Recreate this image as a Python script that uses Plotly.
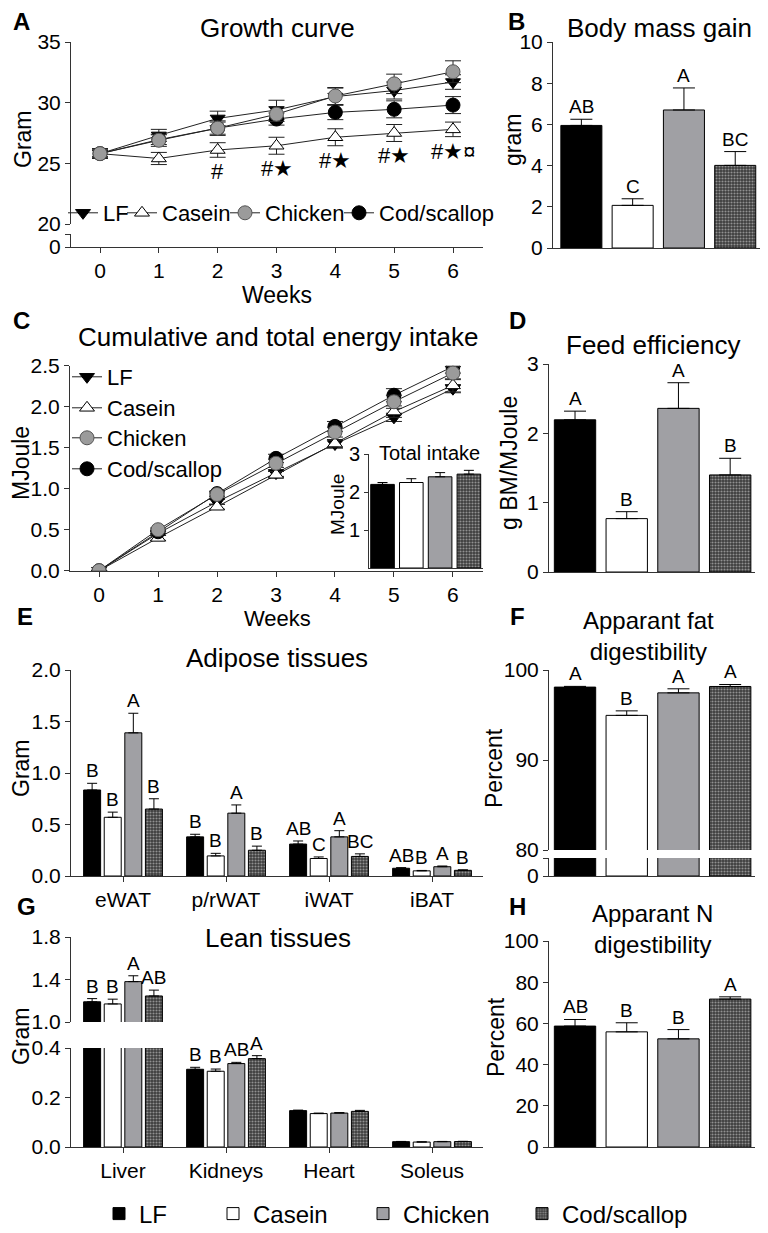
import plotly.graph_objects as go

W, H = 768, 1233
OFF = 8  # the page body adds an 8 px margin; coordinates below are page pixels
FONT = "Liberation Sans, Arial, Helvetica, sans-serif"


def px(x):
    return (x - OFF) / W


def py(y):
    return 1 - (y - OFF) / H


# ---------------- data ----------------
diets = ["LF", "Casein", "Chicken", "Cod/scallop"]
weeks = [0, 1, 2, 3, 4, 5, 6]

# A: growth curve (g)
growth = {
    "LF": [25.8, 27.3, 28.7, 29.4, 30.5, 31.0, 31.7],
    "Casein": [25.8, 25.4, 26.1, 26.45, 27.15, 27.5, 27.8],
    "Chicken": [25.8, 26.9, 27.9, 29.05, 30.55, 31.55, 32.55],
    "Cod/scallop": [25.8, 26.95, 27.9, 28.65, 29.2, 29.45, 29.8],
}
growth_sem = {
    "LF": [0.4, 0.5, 0.6, 0.8, 0.7, 0.7, 0.6],
    "Casein": [0.3, 0.5, 0.6, 0.7, 0.7, 0.7, 0.6],
    "Chicken": [0.4, 0.5, 0.6, 0.6, 0.7, 0.8, 0.9],
    "Cod/scallop": [0.4, 0.4, 0.5, 0.5, 0.6, 0.7, 0.7],
}
growth_sig = ["", "", "#", "#★", "#★", "#★", "#★¤"]

# B: body mass gain (g)
bmg = [5.95, 2.07, 6.7, 4.01]
bmg_sem = [0.3, 0.32, 1.07, 0.67]
bmg_let = ["AB", "C", "A", "BC"]

# C: cumulative energy intake (MJ)
energy = {
    "LF": [0.0, 0.455, 0.84, 1.19, 1.545, 1.87, 2.22],
    "Casein": [0.0, 0.40, 0.78, 1.17, 1.55, 1.94, 2.26],
    "Chicken": [0.0, 0.50, 0.93, 1.31, 1.69, 2.06, 2.41],
    "Cod/scallop": [0.0, 0.475, 0.94, 1.37, 1.76, 2.14, 2.49],
}
energy_sem = {
    "LF": [0.0, 0.02, 0.03, 0.04, 0.05, 0.05, 0.05],
    "Casein": [0.0, 0.03, 0.03, 0.04, 0.05, 0.07, 0.08],
    "Chicken": [0.0, 0.02, 0.03, 0.05, 0.06, 0.08, 0.08],
    "Cod/scallop": [0.0, 0.02, 0.03, 0.05, 0.06, 0.08, 0.08],
}
total_intake = [2.2, 2.25, 2.4, 2.47]
total_intake_sem = [0.05, 0.1, 0.11, 0.1]

# D: feed efficiency (g BM / MJ)
fe = [2.195, 0.77, 2.36, 1.40]
fe_sem = [0.125, 0.10, 0.37, 0.24]
fe_let = ["A", "B", "A", "B"]

# E: adipose tissues (g)
adipose_cats = ["eWAT", "p/rWAT", "iWAT", "iBAT"]
adipose = {
    "LF": [0.835, 0.38, 0.31, 0.075],
    "Casein": [0.57, 0.195, 0.17, 0.05],
    "Chicken": [1.39, 0.61, 0.38, 0.09],
    "Cod/scallop": [0.65, 0.25, 0.19, 0.055],
}
adipose_sem = {
    "LF": [0.065, 0.025, 0.03, 0.006],
    "Casein": [0.05, 0.025, 0.015, 0.004],
    "Chicken": [0.19, 0.08, 0.06, 0.007],
    "Cod/scallop": [0.10, 0.04, 0.025, 0.005],
}
adipose_let = {
    "LF": ["B", "B", "AB", "AB"],
    "Casein": ["B", "B", "C", "B"],
    "Chicken": ["A", "A", "A", "A"],
    "Cod/scallop": ["B", "B", "BC", "B"],
}

# F: apparent fat digestibility (%)
fat_dig = [98.1, 94.96, 97.46, 98.17]
fat_dig_sem = [0.08, 0.5, 0.45, 0.22]
fat_dig_let = ["A", "B", "A", "A"]

# G: lean tissues (g)
lean_cats = ["Liver", "Kidneys", "Heart", "Soleus"]
lean = {
    "LF": [1.19, 0.314, 0.147, 0.0215],
    "Casein": [1.17, 0.306, 0.135, 0.020],
    "Chicken": [1.38, 0.337, 0.137, 0.0215],
    "Cod/scallop": [1.245, 0.357, 0.144, 0.022],
}
lean_sem = {
    "LF": [0.03, 0.008, 0.002, 0.001],
    "Casein": [0.045, 0.009, 0.002, 0.001],
    "Chicken": [0.055, 0.005, 0.002, 0.001],
    "Cod/scallop": [0.055, 0.012, 0.004, 0.001],
}
lean_let = {
    "LF": ["B", "B", "", ""],
    "Casein": ["B", "B", "", ""],
    "Chicken": ["A", "AB", "", ""],
    "Cod/scallop": ["AB", "A", "", ""],
}

# H: apparent N digestibility (%)
n_dig = [58.7, 55.9, 52.5, 71.8]
n_dig_sem = [3.2, 4.4, 4.5, 1.1]
n_dig_let = ["AB", "B", "B", "A"]

# ---------------- styles ----------------
line_markers = {
    "LF": dict(symbol="triangle-down", size=13, color="black", line=dict(color="black", width=1)),
    "Casein": dict(symbol="triangle-up", size=13, color="white", line=dict(color="black", width=1)),
    "Chicken": dict(symbol="circle", size=14, color="#9b9b9b", line=dict(color="#555555", width=1)),
    "Cod/scallop": dict(symbol="circle", size=14, color="black", line=dict(color="black", width=1)),
}


def bar_marker(d):
    edge = dict(color="black", width=1)
    if d == "LF":
        return dict(color="black", line=edge)
    if d == "Casein":
        return dict(color="white", line=edge)
    if d == "Chicken":
        return dict(color="#a0a0a4", line=edge)
    return dict(color="#6a6a6a", line=edge,
                pattern=dict(shape=".", fgcolor="#e6e6e6", bgcolor="#3c3c3c", size=3, solidity=0.4))


fig = go.Figure()
annotations = []

# ---------------- line panels (A and C) ----------------
draw_order = ["LF", "Casein", "Cod/scallop", "Chicken"]
legA = {"LF": "legend", "Casein": "legend2", "Chicken": "legend3", "Cod/scallop": "legend4"}
legC = {"LF": "legend5", "Casein": "legend6", "Chicken": "legend7", "Cod/scallop": "legend8"}

for d in draw_order:
    for ya, show in (("y", True), ("y2", False)):
        fig.add_trace(go.Scatter(
            x=weeks, y=growth[d], name=d, mode="lines+markers",
            xaxis="x", yaxis=ya, marker=line_markers[d],
            line=dict(color="#222222", width=1),
            error_y=dict(type="data", array=growth_sem[d], color="#222222", thickness=1, width=8),
            legend=legA[d], showlegend=show,
        ))
    fig.add_trace(go.Scatter(
        x=weeks, y=energy[d], name=d, mode="lines+markers",
        xaxis="x4", yaxis="y4", marker=line_markers[d],
        line=dict(color="#222222", width=1),
        error_y=dict(type="data", array=energy_sem[d], color="#222222", thickness=1, width=8),
        legend=legC[d], showlegend=True,
    ))

for i, s in enumerate(growth_sig):
    if s:
        annotations.append(dict(
            x=weeks[i], y=growth["Casein"][i] - growth_sem["Casein"][i], xref="x", yref="y",
            text=s, showarrow=False, yanchor="top", font=dict(size=22)))

# ---------------- single-bar panels ----------------
legB = {"LF": "legend9", "Casein": "legend10", "Chicken": "legend11", "Cod/scallop": "legend12"}


def single_bar_panel(vals, sems, lets, xa, yas, letter_ya, cap=11, width=0.8, legend=False):
    for i, d in enumerate(diets):
        for k, ya in enumerate(yas):
            fig.add_trace(go.Bar(
                x=[d], y=[vals[i]], name=d, xaxis=xa, yaxis=ya,
                marker=bar_marker(d), width=width, offsetgroup="single",
                error_y=dict(type="data", array=[sems[i]], arrayminus=[0], symmetric=False,
                             color="black", thickness=1, width=cap),
                showlegend=(legend and k == 0),
                legend=legB[d] if legend else None,
            ))
        if lets is not None and lets[i]:
            annotations.append(dict(
                x=d, y=vals[i] + sems[i], xref=xa, yref=letter_ya, text=lets[i],
                showarrow=False, yanchor="bottom", font=dict(size=19)))


single_bar_panel(bmg, bmg_sem, bmg_let, "x3", ["y3"], "y3", legend=True)
single_bar_panel(total_intake, total_intake_sem, None, "x5", ["y5"], "y5", cap=5, width=0.82)
single_bar_panel(fe, fe_sem, fe_let, "x6", ["y6"], "y6")
single_bar_panel(fat_dig, fat_dig_sem, fat_dig_let, "x8", ["y8", "y9"], "y8")
single_bar_panel(n_dig, n_dig_sem, n_dig_let, "x12", ["y12"], "y12")

# ---------------- grouped bar panels (E and G) ----------------
offsets = [-0.3, -0.1, 0.1, 0.3]


def grouped_panel(cats, data, sems, lets, xa, yas, split=None):
    for i, d in enumerate(diets):
        for ya in yas:
            fig.add_trace(go.Bar(
                x=cats, y=data[d], name=d, xaxis=xa, yaxis=ya,
                marker=bar_marker(d),
                error_y=dict(type="data", array=sems[d], arrayminus=[0] * len(cats),
                             symmetric=False, color="black", thickness=1, width=5),
                showlegend=False,
            ))
        for c in range(len(cats)):
            if lets[d][c]:
                top = data[d][c] + sems[d][c]
                ya = yas[0]
                if split is not None:
                    ya = split[0] if top > split[1] else split[2]
                annotations.append(dict(
                    x=c + offsets[i], y=top, xref=xa, yref=ya, text=lets[d][c],
                    showarrow=False, yanchor="bottom", font=dict(size=19)))


grouped_panel(adipose_cats, adipose, adipose_sem, adipose_let, "x7", ["y7"])
grouped_panel(lean_cats, lean, lean_sem, lean_let, "x10", ["y10", "y11"], split=("y10", 0.4, "y11"))

# ---------------- axes ----------------
tickfont = dict(size=21, color="black", family=FONT)
base = dict(showline=True, linecolor="#333333", linewidth=1, ticks="outside", ticklen=5,
            tickwidth=1, tickcolor="#333333", showgrid=False, zeroline=False,
            tickfont=tickfont, fixedrange=True, automargin=False)


def ax(**kw):
    d = dict(base)
    d.update(kw)
    return d


def cat_x(domain, rng, anchor, cats, ticks=False):
    return ax(domain=domain, type="category", categoryorder="array", categoryarray=cats,
              range=rng, anchor=anchor, showticklabels=ticks, ticks="outside" if ticks else "")


layout_axes = dict(
    # A
    xaxis=ax(domain=[px(71), px(483)], range=[-0.493, 6.51], anchor="y2", tickvals=weeks),
    yaxis=ax(domain=[py(224), py(42)], range=[20, 35], anchor="x", tickvals=[20, 25, 30, 35]),
    yaxis2=ax(domain=[py(247), py(234)], range=[0, 1.07], anchor="x", tickvals=[0, 1.069],
              ticktext=["0", ""]),
    # B
    xaxis3=cat_x([px(553), px(766)], [-0.553, 3.6], "y3", diets),
    yaxis3=ax(domain=[py(248), py(42)], range=[0, 10], dtick=2, anchor="x3"),
    # C
    xaxis4=ax(domain=[px(70), px(483)], range=[-0.493, 6.51], anchor="y4", tickvals=weeks),
    yaxis4=ax(domain=[py(570.7), py(365.7)], range=[0, 2.5], dtick=0.5, tickformat=".1f", anchor="x4"),
    # C inset
    xaxis5=cat_x([px(369), px(483)], [-0.47, 3.49], "y5", diets),
    yaxis5=ax(domain=[py(568), py(454)], range=[0, 3], tickvals=[1, 2, 3], anchor="x5",
              tickfont=dict(size=20, color="black", family=FONT), ticklen=4),
    # D
    xaxis6=cat_x([px(549), px(755)], [-0.503, 3.48], "y6", diets),
    yaxis6=ax(domain=[py(572), py(364)], range=[0, 3], dtick=1, anchor="x6"),
    # E
    xaxis7=cat_x([px(71), px(483)], [-0.505, 3.495], "y7", adipose_cats, ticks=True),
    yaxis7=ax(domain=[py(876), py(670)], range=[0, 2], dtick=0.5, tickformat=".1f", anchor="x7"),
    # F
    xaxis8=cat_x([px(549), px(755)], [-0.503, 3.48], "y9", diets),
    yaxis8=ax(domain=[py(850), py(670)], range=[80, 100], dtick=10, anchor="x8"),
    yaxis9=ax(domain=[py(876), py(858)], range=[0, 2], tickvals=[0, 1.999], ticktext=["0", ""],
              anchor="x8"),
    # G
    xaxis10=cat_x([px(71), px(483)], [-0.505, 3.495], "y11", lean_cats, ticks=True),
    yaxis10=ax(domain=[py(1022), py(937)], range=[1.0, 1.8], tickvals=[1.0, 1.4, 1.8],
               tickformat=".1f", anchor="x10"),
    yaxis11=ax(domain=[py(1147), py(1048)], range=[0, 0.4], tickvals=[0, 0.2, 0.4],
               tickformat=".1f", anchor="x10"),
    # H
    xaxis12=cat_x([px(549), px(755)], [-0.503, 3.48], "y12", diets),
    yaxis12=ax(domain=[py(1147), py(941)], range=[0, 100], dtick=20, anchor="x12"),
)

# ---------------- text: titles, labels, panel letters ----------------


def txt(x, y, s, size, angle=0, bold=False):
    return dict(x=px(x), y=py(y), xref="paper", yref="paper", text=f"<b>{s}</b>" if bold else s,
                showarrow=False, xanchor="center", yanchor="middle", textangle=angle,
                font=dict(size=size, color="black", family=FONT))


for s, x, y in [("A", 21, 22), ("B", 516, 22), ("C", 21, 320), ("D", 517, 320),
                ("E", 25, 616), ("F", 517, 616), ("G", 26, 906), ("H", 517, 906)]:
    annotations.append(txt(x, y, s, 24, bold=True))

for s, x, y in [("Growth curve", 277, 28), ("Body mass gain", 659, 28),
                ("Cumulative and total energy intake", 278, 337), ("Feed efficiency", 653, 345),
                ("Adipose tissues", 277, 658), ("Lean tissues", 278, 938)]:
    annotations.append(txt(x, y, s, 26))

annotations.append(txt(648, 636, "Apparant fat<br>digestibility", 24))
annotations.append(txt(652, 929, "Apparant N<br>digestibility", 24))

annotations.append(txt(429, 453, "Total intake", 20))
annotations.append(txt(337, 505, "MJoule", 19, angle=-90))

for s, x, y in [("Gram", 23, 139), ("gram", 513, 140), ("MJoule", 21, 463), ("g BM/MJoule", 509, 463),
                ("Gram", 21, 768), ("Percent", 494, 768), ("Gram", 21, 1036), ("Percent", 496, 1037)]:
    annotations.append(txt(x, y, s, 23, angle=-90))

annotations.append(txt(277, 295, "Weeks", 23))
annotations.append(txt(277, 618, "Weeks", 22))

# ---------------- legends ----------------


def leg(x, y, size):
    return dict(x=px(x), y=py(y), xanchor="left", yanchor="middle", orientation="h",
                bgcolor="rgba(0,0,0,0)", borderwidth=0, itemwidth=30,
                font=dict(size=size, color="black", family=FONT), tracegroupgap=0,
                itemclick=False, itemdoubleclick=False)


legends = dict(
    # panel A (row of entries)
    legend=leg(63, 213, 22), legend2=leg(122, 213, 22), legend3=leg(225, 213, 22),
    legend4=leg(339, 213, 22),
    # panel C (column of entries)
    legend5=leg(67, 377, 22), legend6=leg(67, 408, 22), legend7=leg(67, 438, 22),
    legend8=leg(67, 469, 22),
    # shared bar legend at the bottom
    legend9=leg(99, 1214, 24), legend10=leg(213, 1214, 24), legend11=leg(363, 1214, 24),
    legend12=leg(522, 1214, 24),
)

fig.update_layout(
    width=W, height=H, autosize=False,
    margin=dict(l=0, r=0, t=0, b=0, pad=0, autoexpand=False),
    paper_bgcolor="white", plot_bgcolor="rgba(0,0,0,0)",
    font=dict(family=FONT, color="black", size=20),
    barmode="group", bargap=0.2, bargroupgap=0.175,
    annotations=annotations,
    **layout_axes, **legends,
)

fig.write_html("out.html")
